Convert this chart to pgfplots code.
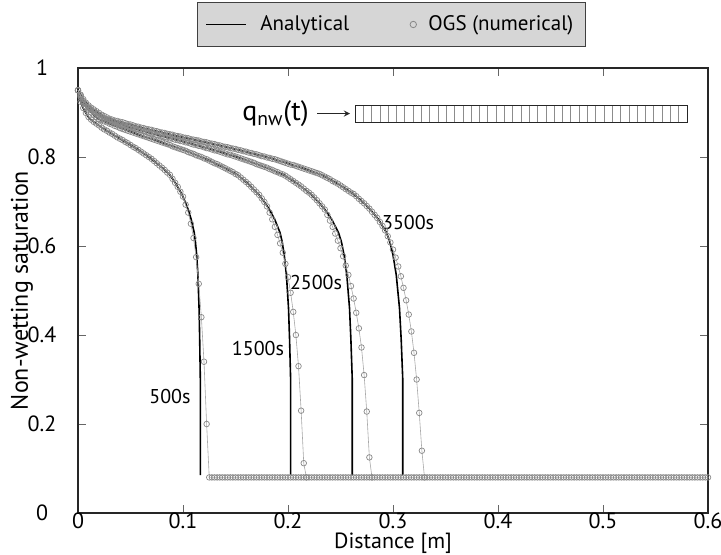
\documentclass[border=0pt]{standalone}
\usepackage{fontspec}
\setmainfont{PT Sans}
\usepackage{pgfplots}
\pgfplotsset{compat=1.18}
\definecolor{numgray}{HTML}{888888}
\definecolor{numline}{HTML}{A8A8A8}
\definecolor{legfill}{HTML}{D6D6D6}

\pgfplotsset{
  num/.style={numline, line width=0.3pt, mark=o, mark size=1.4pt,
    mark options={numgray, line width=0.35pt}},
  ana/.style={black, line width=0.8pt},
}

\begin{document}
\fontsize{11}{13}\selectfont
\begin{tikzpicture}
\path[use as bounding box] (-39pt,-20.5pt) rectangle (321.5pt,256.5pt);
\begin{axis}[
  at={(0,0)}, anchor=south west,
  scale only axis, width=315pt, height=222.5pt,
  xmin=0, xmax=0.6, ymin=0, ymax=1,
  xtick={0,0.1,0.2,0.3,0.4,0.5,0.6},
  ytick={0,0.2,0.4,0.6,0.8,1},
  /pgf/number format/assume math mode=true,
  /pgf/number format/fixed,
  tick align=inside, major tick length=4pt,
  tick style={black!60, line width=0.4pt},
  axis line style={black!85, line width=0.8pt},
  ticklabel style={font=\fontsize{11}{13}\selectfont},
  xticklabel style={inner sep=0.5pt, text depth=0pt, yshift=1pt},
  yticklabel style={anchor=center, xshift=-18pt},
  xlabel={Distance [m]},
  ylabel={Non-wetting saturation},
  xlabel style={at={(axis description cs:0.5,-0.068)}, anchor=center, inner sep=0pt,
    font=\fontsize{11}{13}\selectfont},
  ylabel style={at={(axis description cs:-0.089,0.5)}, anchor=center,
    font=\fontsize{12}{14}\selectfont},
  clip=false,
  legend columns=2,
  legend style={at={(axis description cs:0.4976,1.0978)}, anchor=center,
    fill=legfill, draw=black!75, line width=0.8pt,
    inner xsep=4pt, inner ysep=4.5pt,
    font=\fontsize{10.5}{12.5}\selectfont,
    /tikz/every even column/.append style={column sep=26pt}},
]
\addlegendimage{legend image code/.code={\draw[black, line width=0.8pt] (0pt,0pt) -- (20pt,0pt); \path[draw=none] (0pt,0pt) -- (25pt,0pt);}}
\addlegendentry{Analytical}
\addlegendimage{legend image code/.code={\draw[numgray, line width=0.4pt] (4pt,0pt) circle (1.6pt); \path[draw=none] (0pt,0pt) -- (9.5pt,0pt);}}
\addlegendentry{OGS (numerical)}

% analytical, 500 s
\addplot[ana, forget plot] coordinates {
(0,0.95)(0.0023,0.925)(0.0047,0.911)(0.007,0.901)(0.0093,0.892)(0.0117,0.885)
(0.0233,0.865)(0.035,0.848)(0.0466,0.832)(0.0583,0.815)(0.0699,0.796)(0.0816,0.773)
(0.0874,0.760)(0.0932,0.740)(0.099,0.716)(0.1019,0.700)(0.1049,0.682)(0.1078,0.660)
(0.1107,0.630)(0.1118,0.610)(0.113,0.58)(0.1142,0.535)(0.1153,0.46)(0.1159,0.39)
(0.1165,0.30)(0.1165,0.085)};
% analytical, 1500 s
\addplot[ana, forget plot] coordinates {
(0,0.95)(0.0041,0.925)(0.0081,0.911)(0.0122,0.901)(0.0162,0.892)(0.0203,0.885)
(0.0405,0.865)(0.0608,0.848)(0.081,0.832)(0.1013,0.815)(0.1215,0.796)(0.1418,0.773)
(0.1519,0.760)(0.162,0.740)(0.1721,0.716)(0.1772,0.700)(0.1823,0.682)(0.1873,0.660)
(0.1924,0.630)(0.1944,0.610)(0.1964,0.58)(0.1985,0.535)(0.2005,0.46)(0.2015,0.39)
(0.2025,0.30)(0.2025,0.085)};
% analytical, 2500 s
\addplot[ana, forget plot] coordinates {
(0,0.95)(0.0052,0.925)(0.0104,0.911)(0.0157,0.901)(0.0209,0.892)(0.0261,0.885)
(0.0522,0.865)(0.0784,0.848)(0.1045,0.832)(0.1306,0.815)(0.1567,0.796)(0.1828,0.773)
(0.1959,0.760)(0.209,0.740)(0.222,0.716)(0.2286,0.700)(0.2351,0.682)(0.2416,0.660)
(0.2481,0.630)(0.2508,0.610)(0.2534,0.58)(0.256,0.535)(0.2586,0.46)(0.2599,0.39)
(0.2612,0.30)(0.2612,0.085)};
% analytical, 3500 s
\addplot[ana, forget plot] coordinates {
(0,0.95)(0.0062,0.925)(0.0124,0.911)(0.0186,0.901)(0.0247,0.892)(0.0309,0.885)
(0.0619,0.865)(0.0928,0.848)(0.1237,0.832)(0.1547,0.815)(0.1856,0.796)(0.2165,0.773)
(0.232,0.760)(0.2474,0.740)(0.2629,0.716)(0.2706,0.700)(0.2784,0.682)(0.2861,0.660)
(0.2938,0.630)(0.2969,0.610)(0.3,0.58)(0.3031,0.535)(0.3062,0.46)(0.3078,0.39)
(0.3093,0.30)(0.3093,0.085)};

% numerical, 500 s (with the residual level out to 0.6 m)
\addplot[num, forget plot] coordinates {
(0,0.950)(0.0025,0.924)(0.005,0.910)(0.0075,0.899)(0.01,0.890)(0.0125,0.884)
(0.015,0.879)(0.0175,0.875)(0.02,0.871)(0.0225,0.866)(0.025,0.862)(0.0275,0.859)
(0.03,0.855)(0.0325,0.852)(0.035,0.848)(0.0375,0.844)(0.04,0.841)(0.0425,0.838)
(0.045,0.834)(0.0475,0.831)(0.05,0.827)(0.0525,0.823)(0.055,0.820)(0.0575,0.816)
(0.06,0.812)(0.0625,0.808)(0.065,0.804)(0.0675,0.800)(0.07,0.796)(0.0725,0.791)
(0.075,0.786)(0.0775,0.781)(0.08,0.776)(0.0825,0.771)(0.085,0.765)(0.0875,0.760)
(0.09,0.751)(0.0925,0.742)(0.095,0.733)(0.0975,0.722)(0.1,0.711)(0.1025,0.693)
(0.105,0.675)(0.1075,0.650)(0.11,0.618)(0.1125,0.575)(0.115,0.515)(0.1175,0.44)
(0.12,0.34)(0.1225,0.20)(0.125,0.08)
(0.1275,0.08)(0.13,0.08)(0.1325,0.08)(0.135,0.08)(0.1375,0.08)(0.14,0.08)(0.1425,0.08)(0.145,0.08)(0.1475,0.08)(0.15,0.08)
(0.1525,0.08)(0.155,0.08)(0.1575,0.08)(0.16,0.08)(0.1625,0.08)(0.165,0.08)(0.1675,0.08)(0.17,0.08)(0.1725,0.08)(0.175,0.08)
(0.1775,0.08)(0.18,0.08)(0.1825,0.08)(0.185,0.08)(0.1875,0.08)(0.19,0.08)(0.1925,0.08)(0.195,0.08)(0.1975,0.08)(0.2,0.08)
(0.2025,0.08)(0.205,0.08)(0.2075,0.08)(0.21,0.08)(0.2125,0.08)(0.215,0.08)(0.2175,0.08)(0.22,0.08)(0.2225,0.08)(0.225,0.08)
(0.2275,0.08)(0.23,0.08)(0.2325,0.08)(0.235,0.08)(0.2375,0.08)(0.24,0.08)(0.2425,0.08)(0.245,0.08)(0.2475,0.08)(0.25,0.08)
(0.2525,0.08)(0.255,0.08)(0.2575,0.08)(0.26,0.08)(0.2625,0.08)(0.265,0.08)(0.2675,0.08)(0.27,0.08)(0.2725,0.08)(0.275,0.08)
(0.2775,0.08)(0.28,0.08)(0.2825,0.08)(0.285,0.08)(0.2875,0.08)(0.29,0.08)(0.2925,0.08)(0.295,0.08)(0.2975,0.08)(0.3,0.08)
(0.3025,0.08)(0.305,0.08)(0.3075,0.08)(0.31,0.08)(0.3125,0.08)(0.315,0.08)(0.3175,0.08)(0.32,0.08)(0.3225,0.08)(0.325,0.08)
(0.3275,0.08)(0.33,0.08)(0.3325,0.08)(0.335,0.08)(0.3375,0.08)(0.34,0.08)(0.3425,0.08)(0.345,0.08)(0.3475,0.08)(0.35,0.08)
(0.3525,0.08)(0.355,0.08)(0.3575,0.08)(0.36,0.08)(0.3625,0.08)(0.365,0.08)(0.3675,0.08)(0.37,0.08)(0.3725,0.08)(0.375,0.08)
(0.3775,0.08)(0.38,0.08)(0.3825,0.08)(0.385,0.08)(0.3875,0.08)(0.39,0.08)(0.3925,0.08)(0.395,0.08)(0.3975,0.08)(0.4,0.08)
(0.4025,0.08)(0.405,0.08)(0.4075,0.08)(0.41,0.08)(0.4125,0.08)(0.415,0.08)(0.4175,0.08)(0.42,0.08)(0.4225,0.08)(0.425,0.08)
(0.4275,0.08)(0.43,0.08)(0.4325,0.08)(0.435,0.08)(0.4375,0.08)(0.44,0.08)(0.4425,0.08)(0.445,0.08)(0.4475,0.08)(0.45,0.08)
(0.4525,0.08)(0.455,0.08)(0.4575,0.08)(0.46,0.08)(0.4625,0.08)(0.465,0.08)(0.4675,0.08)(0.47,0.08)(0.4725,0.08)(0.475,0.08)
(0.4775,0.08)(0.48,0.08)(0.4825,0.08)(0.485,0.08)(0.4875,0.08)(0.49,0.08)(0.4925,0.08)(0.495,0.08)(0.4975,0.08)(0.5,0.08)
(0.5025,0.08)(0.505,0.08)(0.5075,0.08)(0.51,0.08)(0.5125,0.08)(0.515,0.08)(0.5175,0.08)(0.52,0.08)(0.5225,0.08)(0.525,0.08)
(0.5275,0.08)(0.53,0.08)(0.5325,0.08)(0.535,0.08)(0.5375,0.08)(0.54,0.08)(0.5425,0.08)(0.545,0.08)(0.5475,0.08)(0.55,0.08)
(0.5525,0.08)(0.555,0.08)(0.5575,0.08)(0.56,0.08)(0.5625,0.08)(0.565,0.08)(0.5675,0.08)(0.57,0.08)(0.5725,0.08)(0.575,0.08)
(0.5775,0.08)(0.58,0.08)(0.5825,0.08)(0.585,0.08)(0.5875,0.08)(0.59,0.08)(0.5925,0.08)(0.595,0.08)(0.5975,0.08)(0.6,0.08)};
% numerical, 1500 s
\addplot[num, forget plot] coordinates {
(0,0.950)(0.0025,0.935)(0.005,0.922)(0.0075,0.913)(0.01,0.906)(0.0125,0.900)
(0.015,0.895)(0.0175,0.890)(0.02,0.885)(0.0225,0.883)(0.025,0.880)(0.0275,0.878)
(0.03,0.875)(0.0325,0.873)(0.035,0.870)(0.0375,0.868)(0.04,0.865)(0.0425,0.863)
(0.045,0.861)(0.0475,0.859)(0.05,0.857)(0.0525,0.855)(0.055,0.853)(0.0575,0.851)
(0.06,0.849)(0.0625,0.847)(0.065,0.845)(0.0675,0.843)(0.07,0.841)(0.0725,0.839)
(0.075,0.837)(0.0775,0.835)(0.08,0.833)(0.0825,0.831)(0.085,0.829)(0.0875,0.827)
(0.09,0.824)(0.0925,0.822)(0.095,0.820)(0.0975,0.818)(0.1,0.816)(0.1025,0.814)
(0.105,0.811)(0.1075,0.809)(0.11,0.807)(0.1125,0.804)(0.115,0.802)(0.1175,0.800)
(0.12,0.797)(0.1225,0.795)(0.125,0.792)(0.1275,0.789)(0.13,0.786)(0.1325,0.784)
(0.135,0.781)(0.1375,0.778)(0.14,0.775)(0.1425,0.772)(0.145,0.769)(0.1475,0.766)
(0.15,0.762)(0.1525,0.759)(0.155,0.754)(0.1575,0.749)(0.16,0.744)(0.1625,0.739)
(0.165,0.733)(0.1675,0.727)(0.17,0.721)(0.1725,0.715)(0.175,0.707)(0.1775,0.699)
(0.18,0.689)(0.1825,0.675)(0.185,0.660)(0.1875,0.643)(0.19,0.625)(0.1925,0.606)
(0.195,0.585)(0.1975,0.560)(0.2,0.530)(0.2025,0.495)(0.205,0.452)(0.2075,0.400)
(0.21,0.330)(0.2125,0.230)(0.215,0.112)(0.2175,0.08)};
% numerical, 2500 s
\addplot[num, forget plot] coordinates {
(0,0.950)(0.0025,0.938)(0.005,0.926)(0.0075,0.919)(0.01,0.912)(0.0125,0.907)
(0.015,0.902)(0.0175,0.898)(0.02,0.894)(0.0225,0.890)(0.025,0.887)(0.0275,0.884)
(0.03,0.882)(0.0325,0.880)(0.035,0.878)(0.0375,0.876)(0.04,0.874)(0.0425,0.872)
(0.045,0.871)(0.0475,0.869)(0.05,0.867)(0.0525,0.865)(0.055,0.863)(0.0575,0.862)
(0.06,0.860)(0.0625,0.858)(0.065,0.857)(0.0675,0.855)(0.07,0.853)(0.0725,0.852)
(0.075,0.850)(0.0775,0.849)(0.08,0.847)(0.0825,0.845)(0.085,0.844)(0.0875,0.842)
(0.09,0.841)(0.0925,0.839)(0.095,0.838)(0.0975,0.836)(0.1,0.835)(0.1025,0.833)
(0.105,0.832)(0.1075,0.830)(0.11,0.828)(0.1125,0.827)(0.115,0.825)(0.1175,0.824)
(0.12,0.822)(0.1225,0.820)(0.125,0.819)(0.1275,0.817)(0.13,0.815)(0.1325,0.814)
(0.135,0.812)(0.1375,0.810)(0.14,0.808)(0.1425,0.806)(0.145,0.805)(0.1475,0.803)
(0.15,0.801)(0.1525,0.799)(0.155,0.797)(0.1575,0.795)(0.16,0.793)(0.1625,0.791)
(0.165,0.789)(0.1675,0.787)(0.17,0.784)(0.1725,0.782)(0.175,0.780)(0.1775,0.778)
(0.18,0.776)(0.1825,0.773)(0.185,0.771)(0.1875,0.768)(0.19,0.766)(0.1925,0.763)
(0.195,0.761)(0.1975,0.758)(0.2,0.754)(0.2025,0.750)(0.205,0.746)(0.2075,0.742)
(0.21,0.738)(0.2125,0.734)(0.215,0.729)(0.2175,0.724)(0.22,0.720)(0.2225,0.715)
(0.225,0.709)(0.2275,0.703)(0.23,0.696)(0.2325,0.689)(0.235,0.682)(0.2375,0.670)
(0.24,0.657)(0.2425,0.643)(0.245,0.628)(0.2475,0.612)(0.25,0.595)(0.2525,0.577)
(0.255,0.556)(0.2575,0.535)(0.26,0.510)(0.2625,0.482)(0.265,0.450)(0.2675,0.415)
(0.27,0.372)(0.2725,0.31)(0.275,0.228)(0.2775,0.125)(0.28,0.08)};
% numerical, 3500 s
\addplot[num, forget plot] coordinates {
(0,0.950)(0.0025,0.940)(0.005,0.930)(0.0075,0.922)(0.01,0.916)(0.0125,0.911)
(0.015,0.907)(0.0175,0.903)(0.02,0.899)(0.0225,0.895)(0.025,0.892)(0.0275,0.889)
(0.03,0.886)(0.0325,0.884)(0.035,0.882)(0.0375,0.881)(0.04,0.879)(0.0425,0.878)
(0.045,0.876)(0.0475,0.874)(0.05,0.873)(0.0525,0.871)(0.055,0.869)(0.0575,0.868)
(0.06,0.866)(0.0625,0.865)(0.065,0.863)(0.0675,0.862)(0.07,0.861)(0.0725,0.859)
(0.075,0.858)(0.0775,0.856)(0.08,0.855)(0.0825,0.854)(0.085,0.852)(0.0875,0.851)
(0.09,0.850)(0.0925,0.848)(0.095,0.847)(0.0975,0.846)(0.1,0.844)(0.1025,0.843)
(0.105,0.842)(0.1075,0.840)(0.11,0.839)(0.1125,0.838)(0.115,0.837)(0.1175,0.835)
(0.12,0.834)(0.1225,0.833)(0.125,0.831)(0.1275,0.830)(0.13,0.829)(0.1325,0.827)
(0.135,0.826)(0.1375,0.824)(0.14,0.823)(0.1425,0.822)(0.145,0.820)(0.1475,0.819)
(0.15,0.818)(0.1525,0.816)(0.155,0.815)(0.1575,0.813)(0.16,0.812)(0.1625,0.810)
(0.165,0.809)(0.1675,0.807)(0.17,0.806)(0.1725,0.804)(0.175,0.802)(0.1775,0.801)
(0.18,0.799)(0.1825,0.798)(0.185,0.796)(0.1875,0.795)(0.19,0.793)(0.1925,0.791)
(0.195,0.789)(0.1975,0.787)(0.2,0.785)(0.2025,0.783)(0.205,0.782)(0.2075,0.780)
(0.21,0.778)(0.2125,0.776)(0.215,0.774)(0.2175,0.772)(0.22,0.770)(0.2225,0.768)
(0.225,0.766)(0.2275,0.764)(0.23,0.762)(0.2325,0.759)(0.235,0.756)(0.2375,0.753)
(0.24,0.750)(0.2425,0.746)(0.245,0.743)(0.2475,0.740)(0.25,0.736)(0.2525,0.732)
(0.255,0.728)(0.2575,0.724)(0.26,0.720)(0.2625,0.717)(0.265,0.712)(0.2675,0.706)
(0.27,0.701)(0.2725,0.696)(0.275,0.690)(0.2775,0.684)(0.28,0.677)(0.2825,0.670)
(0.285,0.663)(0.2875,0.654)(0.29,0.645)(0.2925,0.635)(0.295,0.622)(0.2975,0.608)
(0.3,0.592)(0.3025,0.574)(0.305,0.554)(0.3075,0.532)(0.31,0.506)(0.3125,0.478)
(0.315,0.446)(0.3175,0.408)(0.32,0.36)(0.3225,0.30)(0.325,0.225)(0.3275,0.14)
(0.33,0.08)};

\node[font=\fontsize{10}{12}\selectfont] at (axis cs:0.0876,0.261) {500s};
\node[font=\fontsize{10}{12}\selectfont] at (axis cs:0.1714,0.370) {1500s};
\node[font=\fontsize{10}{12}\selectfont] at (axis cs:0.2267,0.517) {2500s};
\node[font=\fontsize{10}{12}\selectfont] at (axis cs:0.3144,0.653) {3500s};
\end{axis}

% injection sketch: q_nw(t) and the inflow boundary cells
\node[anchor=east, inner sep=0pt, font=\fontsize{14}{16}\selectfont] at (115.5pt,199.5pt) {q\textsubscript{nw}(t)};
\draw[-stealth, black!85, line width=0.4pt] (119.5pt,199.75pt) -- (136pt,199.75pt);
\foreach \i in {1,...,39} \draw[black!45, line width=0.35pt] ({138.5pt+\i*4.15pt},195.5pt) -- ++(0,8.5pt);
\draw[black!85, line width=0.5pt] (138.5pt,195.5pt) rectangle (304.5pt,204pt);
\end{tikzpicture}
\end{document}
